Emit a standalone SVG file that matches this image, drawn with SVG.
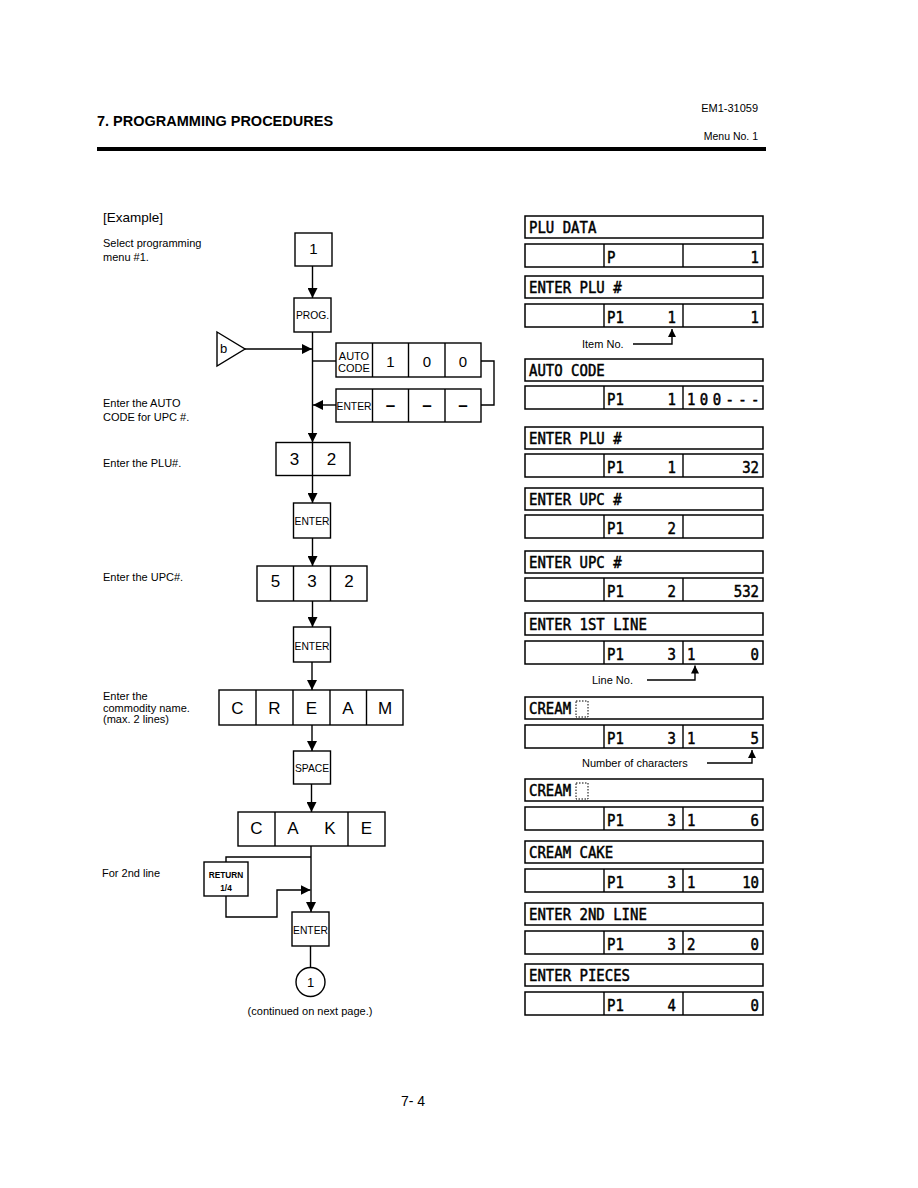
<svg xmlns="http://www.w3.org/2000/svg" width="918" height="1188" viewBox="0 0 918 1188">
<defs>
<style>
.bg{fill:#fff}
.box{fill:#fff;stroke:#000;stroke-width:1.4}
.ln{fill:none;stroke:#000;stroke-width:1.4}
.dsp{fill:#fff;stroke:#000;stroke-width:1.5}
.lbl{font-family:"Liberation Sans",Arial,sans-serif;font-size:11px;fill:#000}
.key{font-family:"Liberation Sans",Arial,sans-serif;font-size:17px;fill:#000;text-anchor:middle}
.key15{font-family:"Liberation Sans",Arial,sans-serif;font-size:15px;fill:#000;text-anchor:middle}
.sk{font-family:"Liberation Sans",Arial,sans-serif;font-size:10.3px;fill:#000;text-anchor:middle}
.lcd{font-family:"DejaVu Sans Mono","Liberation Mono",monospace;font-size:14px;fill:#000;stroke:#000;stroke-width:0.45}
.end{text-anchor:end}
.cur{fill:none;stroke:#000;stroke-width:1;stroke-dasharray:1.5 1.5}
</style>
<marker id="ah" viewBox="0 0 10 10" refX="10" refY="5" markerWidth="10" markerHeight="10" markerUnits="userSpaceOnUse" orient="auto"><path d="M0,0 L10,5 L0,10 z" fill="#000"/></marker>
<marker id="ahs" viewBox="0 0 10 10" refX="10" refY="5" markerWidth="9" markerHeight="8" markerUnits="userSpaceOnUse" orient="auto"><path d="M0,0 L10,5 L0,10 z" fill="#000"/></marker>
</defs>
<rect class="bg" x="0" y="0" width="918" height="1188"/>

<g id="header">
<text x="97" y="126" font-family="Liberation Sans,Arial,sans-serif" font-size="14.5" font-weight="bold">7. PROGRAMMING PROCEDURES</text>
<text x="758" y="112" font-family="Liberation Sans,Arial,sans-serif" font-size="11" text-anchor="end">EM1-31059</text>
<text x="758" y="140" font-family="Liberation Sans,Arial,sans-serif" font-size="10.5" text-anchor="end">Menu No. 1</text>
<rect x="97" y="147" width="669" height="4" fill="#000"/>
</g>

<g id="labels">
<text x="103" y="222" font-family="Liberation Sans,Arial,sans-serif" font-size="13.5">[Example]</text>
<text class="lbl" x="103" y="247">Select programming</text>
<text class="lbl" x="103" y="261">menu #1.</text>
<text class="lbl" x="103" y="407">Enter the AUTO</text>
<text class="lbl" x="103" y="421">CODE for UPC #.</text>
<text class="lbl" x="103" y="467">Enter the PLU#.</text>
<text class="lbl" x="103" y="581">Enter the UPC#.</text>
<text class="lbl" x="103" y="700">Enter the</text>
<text class="lbl" x="103" y="711.5">commodity name.</text>
<text class="lbl" x="103" y="723">(max. 2 lines)</text>
<text class="lbl" x="102" y="877">For 2nd line</text>
<text class="lbl" x="310" y="1015" text-anchor="middle">(continued on next page.)</text>
<text x="413" y="1106" font-family="Liberation Sans,Arial,sans-serif" font-size="14" text-anchor="middle">7- 4</text>
</g>

<g id="connectors">
<line class="ln" x1="312.5" y1="266" x2="312.5" y2="298" marker-end="url(#ah)"/>
<line class="ln" x1="312.5" y1="332" x2="312.5" y2="442.5" marker-end="url(#ah)"/>
<line class="ln" x1="245" y1="349" x2="312" y2="349" marker-end="url(#ah)"/>
<line class="ln" x1="312.5" y1="361" x2="336" y2="361"/>
<polyline class="ln" points="481,361 494,361 494,405 481,405"/>
<line class="ln" x1="336" y1="405" x2="313" y2="405" marker-end="url(#ah)"/>
<line class="ln" x1="312.5" y1="475.5" x2="312.5" y2="503" marker-end="url(#ah)"/>
<line class="ln" x1="312.5" y1="538" x2="312.5" y2="566" marker-end="url(#ah)"/>
<line class="ln" x1="312.5" y1="601" x2="312.5" y2="627" marker-end="url(#ah)"/>
<line class="ln" x1="312" y1="662" x2="312" y2="690" marker-end="url(#ah)"/>
<line class="ln" x1="312" y1="725" x2="312" y2="751" marker-end="url(#ah)"/>
<line class="ln" x1="311.5" y1="784" x2="311.5" y2="812" marker-end="url(#ah)"/>
<line class="ln" x1="311.5" y1="812" x2="311.5" y2="846"/>
<line class="ln" x1="311" y1="846" x2="311" y2="912" marker-end="url(#ah)"/>
<polyline class="ln" points="311,857 226,857 226,862"/>
<polyline class="ln" points="226,896 226,917 277,917 277,890 310.5,890" marker-end="url(#ah)"/>
<line class="ln" x1="310.5" y1="946" x2="310.5" y2="967.5"/>
<polyline class="ln" points="633,344 672,344 672,329" marker-end="url(#ahs)"/>
<polyline class="ln" points="647,680 695,680 695,665.5" marker-end="url(#ahs)"/>
<polyline class="ln" points="707,763 752,763 752,750" marker-end="url(#ahs)"/>
</g>

<g id="key-1"><rect class="box" x="295" y="233" width="37" height="33"/><text class="key15" x="313.5" y="254">1</text></g>
<g id="key-prog"><rect class="box" x="294" y="298" width="37" height="34"/><text class="sk" x="312.5" y="319">PROG.</text></g>
<g id="node-b"><polygon class="box" points="217,332 245,349 217,366"/><text x="220" y="353" font-family="Liberation Sans,Arial,sans-serif" font-size="13">b</text></g>
<g id="row-autocode">
<rect class="box" x="336" y="343" width="145" height="34"/>
<line class="ln" x1="372.5" y1="343" x2="372.5" y2="377"/><line class="ln" x1="408.5" y1="343" x2="408.5" y2="377"/><line class="ln" x1="445" y1="343" x2="445" y2="377"/>
<text x="354" y="359.5" font-family="Liberation Sans,Arial,sans-serif" font-size="11" text-anchor="middle">AUTO</text>
<text x="354" y="371.7" font-family="Liberation Sans,Arial,sans-serif" font-size="11" text-anchor="middle">CODE</text>
<text class="key15" x="390.5" y="366.5">1</text><text class="key15" x="427" y="366.5">0</text><text class="key15" x="463" y="366.5">0</text>
</g>
<g id="row-enter">
<rect class="box" x="336" y="389" width="145" height="33"/>
<line class="ln" x1="372.5" y1="389" x2="372.5" y2="422"/><line class="ln" x1="408.5" y1="389" x2="408.5" y2="422"/><line class="ln" x1="445" y1="389" x2="445" y2="422"/>
<text class="sk" x="354" y="410">ENTER</text>
<text class="key" x="390.5" y="411" font-weight="bold">–</text><text class="key" x="427" y="411" font-weight="bold">–</text><text class="key" x="463" y="411" font-weight="bold">–</text>
</g>
<g id="keys-32">
<rect class="box" x="276" y="442.5" width="74" height="33"/>
<line class="ln" x1="312.5" y1="442.5" x2="312.5" y2="475.5"/>
<text class="key" x="294.5" y="465">3</text><text class="key" x="331.5" y="465">2</text>
</g>
<g id="key-enter1"><rect class="box" x="293.5" y="503" width="37" height="35"/><text class="sk" x="312" y="524.5">ENTER</text></g>
<g id="keys-532">
<rect class="box" x="257" y="566" width="110" height="35"/>
<line class="ln" x1="293.5" y1="566" x2="293.5" y2="601"/><line class="ln" x1="330.5" y1="566" x2="330.5" y2="601"/>
<text class="key" x="275.5" y="587">5</text><text class="key" x="312" y="587">3</text><text class="key" x="349" y="587">2</text>
</g>
<g id="key-enter2"><rect class="box" x="293.5" y="627" width="37" height="35"/><text class="sk" x="312" y="650">ENTER</text></g>
<g id="keys-cream">
<rect class="box" x="219" y="690" width="184" height="35"/>
<line class="ln" x1="256" y1="690" x2="256" y2="725"/><line class="ln" x1="293" y1="690" x2="293" y2="725"/><line class="ln" x1="330" y1="690" x2="330" y2="725"/><line class="ln" x1="366.5" y1="690" x2="366.5" y2="725"/>
<text class="key" x="237.5" y="714">C</text><text class="key" x="274.5" y="714">R</text><text class="key" x="311.5" y="714">E</text><text class="key" x="348" y="714">A</text><text class="key" x="385" y="714">M</text>
</g>
<g id="key-space"><rect class="box" x="293.5" y="751" width="37" height="33"/><text class="sk" x="312" y="771.5">SPACE</text></g>
<g id="keys-cake">
<rect class="box" x="238" y="812" width="147" height="34"/>
<line class="ln" x1="275" y1="812" x2="275" y2="846"/><line class="ln" x1="348" y1="812" x2="348" y2="846"/>
<text class="key" x="256.5" y="834">C</text><text class="key" x="293" y="834">A</text><text class="key" x="330" y="834">K</text><text class="key" x="366.5" y="834">E</text>
</g>
<g id="key-return"><rect class="box" x="204" y="862" width="44" height="34"/>
<text x="226" y="878" font-family="Liberation Sans,Arial,sans-serif" font-size="8.3" font-weight="bold" text-anchor="middle">RETURN</text>
<text x="226" y="891" font-family="Liberation Sans,Arial,sans-serif" font-size="8.3" font-weight="bold" text-anchor="middle">1/4</text></g>
<g id="key-enter3"><rect class="box" x="292" y="912" width="37" height="34"/><text class="sk" x="310.5" y="933.5">ENTER</text></g>
<g id="connector-1"><circle class="box" cx="310.5" cy="982" r="14.5"/><text x="310.5" y="987" font-family="Liberation Sans,Arial,sans-serif" font-size="13" text-anchor="middle">1</text></g>

<g id="display-labels">
<text class="lbl" x="582" y="348">Item No.</text>
<text class="lbl" x="592" y="684">Line No.</text>
<text class="lbl" x="582" y="767">Number of characters</text>
</g>

<g id="disp-1">
<rect class="dsp" x="525" y="216" width="238" height="22"/>
<text class="lcd" transform="translate(529,233) scale(1,1.18)">PLU DATA</text>
<rect class="dsp" x="525" y="244" width="238" height="23"/><line class="ln" x1="604" y1="244" x2="604" y2="267"/><line class="ln" x1="683" y1="244" x2="683" y2="267"/>
<text class="lcd" transform="translate(607,262.5) scale(1,1.18)">P</text>
<text class="lcd end" transform="translate(759,262.5) scale(1,1.18)">1</text>
</g>
<g id="disp-2">
<rect class="dsp" x="525" y="276" width="238" height="22"/>
<text class="lcd" transform="translate(529,293) scale(1,1.18)">ENTER PLU #</text>
<rect class="dsp" x="525" y="304" width="238" height="23"/><line class="ln" x1="604" y1="304" x2="604" y2="327"/><line class="ln" x1="683" y1="304" x2="683" y2="327"/>
<text class="lcd" transform="translate(607,322.5) scale(1,1.18)">P1</text>
<text class="lcd end" transform="translate(676,322.5) scale(1,1.18)">1</text>
<text class="lcd end" transform="translate(759,322.5) scale(1,1.18)">1</text>
</g>
<g id="disp-3">
<rect class="dsp" x="525" y="359" width="238" height="22"/>
<text class="lcd" transform="translate(529,376) scale(1,1.18)">AUTO CODE</text>
<rect class="dsp" x="525" y="386" width="238" height="23"/><line class="ln" x1="604" y1="386" x2="604" y2="409"/><line class="ln" x1="683" y1="386" x2="683" y2="409"/>
<text class="lcd" transform="translate(607,404.5) scale(1,1.18)">P1</text>
<text class="lcd end" transform="translate(676,404.5) scale(1,1.18)">1</text>
<text class="lcd" transform="translate(687,404.5) scale(1,1.18)" letter-spacing="4.4">100---</text>
</g>
<g id="disp-4">
<rect class="dsp" x="525" y="427" width="238" height="22"/>
<text class="lcd" transform="translate(529,444) scale(1,1.18)">ENTER PLU #</text>
<rect class="dsp" x="525" y="454" width="238" height="23"/><line class="ln" x1="604" y1="454" x2="604" y2="477"/><line class="ln" x1="683" y1="454" x2="683" y2="477"/>
<text class="lcd" transform="translate(607,472.5) scale(1,1.18)">P1</text>
<text class="lcd end" transform="translate(676,472.5) scale(1,1.18)">1</text>
<text class="lcd end" transform="translate(759,472.5) scale(1,1.18)">32</text>
</g>
<g id="disp-5">
<rect class="dsp" x="525" y="488" width="238" height="22"/>
<text class="lcd" transform="translate(529,505) scale(1,1.18)">ENTER UPC #</text>
<rect class="dsp" x="525" y="515" width="238" height="23"/><line class="ln" x1="604" y1="515" x2="604" y2="538"/><line class="ln" x1="683" y1="515" x2="683" y2="538"/>
<text class="lcd" transform="translate(607,533.5) scale(1,1.18)">P1</text>
<text class="lcd end" transform="translate(676,533.5) scale(1,1.18)">2</text>
</g>
<g id="disp-6">
<rect class="dsp" x="525" y="551" width="238" height="22"/>
<text class="lcd" transform="translate(529,568) scale(1,1.18)">ENTER UPC #</text>
<rect class="dsp" x="525" y="578" width="238" height="23"/><line class="ln" x1="604" y1="578" x2="604" y2="601"/><line class="ln" x1="683" y1="578" x2="683" y2="601"/>
<text class="lcd" transform="translate(607,596.5) scale(1,1.18)">P1</text>
<text class="lcd end" transform="translate(676,596.5) scale(1,1.18)">2</text>
<text class="lcd end" transform="translate(759,596.5) scale(1,1.18)">532</text>
</g>
<g id="disp-7">
<rect class="dsp" x="525" y="613" width="238" height="22"/>
<text class="lcd" transform="translate(529,630) scale(1,1.18)">ENTER 1ST LINE</text>
<rect class="dsp" x="525" y="641" width="238" height="23"/><line class="ln" x1="604" y1="641" x2="604" y2="664"/><line class="ln" x1="683" y1="641" x2="683" y2="664"/>
<text class="lcd" transform="translate(607,659.5) scale(1,1.18)">P1</text>
<text class="lcd end" transform="translate(676,659.5) scale(1,1.18)">3</text>
<text class="lcd" transform="translate(687,659.5) scale(1,1.18)">1</text>
<text class="lcd end" transform="translate(759,659.5) scale(1,1.18)">0</text>
</g>
<g id="disp-8">
<rect class="dsp" x="525" y="697" width="238" height="22"/>
<text class="lcd" transform="translate(529,714) scale(1,1.18)">CREAM</text>
<rect class="cur" x="576" y="701" width="12" height="16"/>
<rect class="dsp" x="525" y="725" width="238" height="23"/><line class="ln" x1="604" y1="725" x2="604" y2="748"/><line class="ln" x1="683" y1="725" x2="683" y2="748"/>
<text class="lcd" transform="translate(607,743.5) scale(1,1.18)">P1</text>
<text class="lcd end" transform="translate(676,743.5) scale(1,1.18)">3</text>
<text class="lcd" transform="translate(687,743.5) scale(1,1.18)">1</text>
<text class="lcd end" transform="translate(759,743.5) scale(1,1.18)">5</text>
</g>
<g id="disp-9">
<rect class="dsp" x="525" y="779" width="238" height="22"/>
<text class="lcd" transform="translate(529,796) scale(1,1.18)">CREAM</text>
<rect class="cur" x="576" y="783" width="12" height="16"/>
<rect class="dsp" x="525" y="807" width="238" height="23"/><line class="ln" x1="604" y1="807" x2="604" y2="830"/><line class="ln" x1="683" y1="807" x2="683" y2="830"/>
<text class="lcd" transform="translate(607,825.5) scale(1,1.18)">P1</text>
<text class="lcd end" transform="translate(676,825.5) scale(1,1.18)">3</text>
<text class="lcd" transform="translate(687,825.5) scale(1,1.18)">1</text>
<text class="lcd end" transform="translate(759,825.5) scale(1,1.18)">6</text>
</g>
<g id="disp-10">
<rect class="dsp" x="525" y="841" width="238" height="22"/>
<text class="lcd" transform="translate(529,858) scale(1,1.18)">CREAM CAKE</text>
<rect class="dsp" x="525" y="869" width="238" height="23"/><line class="ln" x1="604" y1="869" x2="604" y2="892"/><line class="ln" x1="683" y1="869" x2="683" y2="892"/>
<text class="lcd" transform="translate(607,887.5) scale(1,1.18)">P1</text>
<text class="lcd end" transform="translate(676,887.5) scale(1,1.18)">3</text>
<text class="lcd" transform="translate(687,887.5) scale(1,1.18)">1</text>
<text class="lcd end" transform="translate(759,887.5) scale(1,1.18)">10</text>
</g>
<g id="disp-11">
<rect class="dsp" x="525" y="903" width="238" height="22"/>
<text class="lcd" transform="translate(529,920) scale(1,1.18)">ENTER 2ND LINE</text>
<rect class="dsp" x="525" y="931" width="238" height="23"/><line class="ln" x1="604" y1="931" x2="604" y2="954"/><line class="ln" x1="683" y1="931" x2="683" y2="954"/>
<text class="lcd" transform="translate(607,949.5) scale(1,1.18)">P1</text>
<text class="lcd end" transform="translate(676,949.5) scale(1,1.18)">3</text>
<text class="lcd" transform="translate(687,949.5) scale(1,1.18)">2</text>
<text class="lcd end" transform="translate(759,949.5) scale(1,1.18)">0</text>
</g>
<g id="disp-12">
<rect class="dsp" x="525" y="964" width="238" height="22"/>
<text class="lcd" transform="translate(529,981) scale(1,1.18)">ENTER PIECES</text>
<rect class="dsp" x="525" y="992" width="238" height="23"/><line class="ln" x1="604" y1="992" x2="604" y2="1015"/><line class="ln" x1="683" y1="992" x2="683" y2="1015"/>
<text class="lcd" transform="translate(607,1010.5) scale(1,1.18)">P1</text>
<text class="lcd end" transform="translate(676,1010.5) scale(1,1.18)">4</text>
<text class="lcd end" transform="translate(759,1010.5) scale(1,1.18)">0</text>
</g>
</svg>
